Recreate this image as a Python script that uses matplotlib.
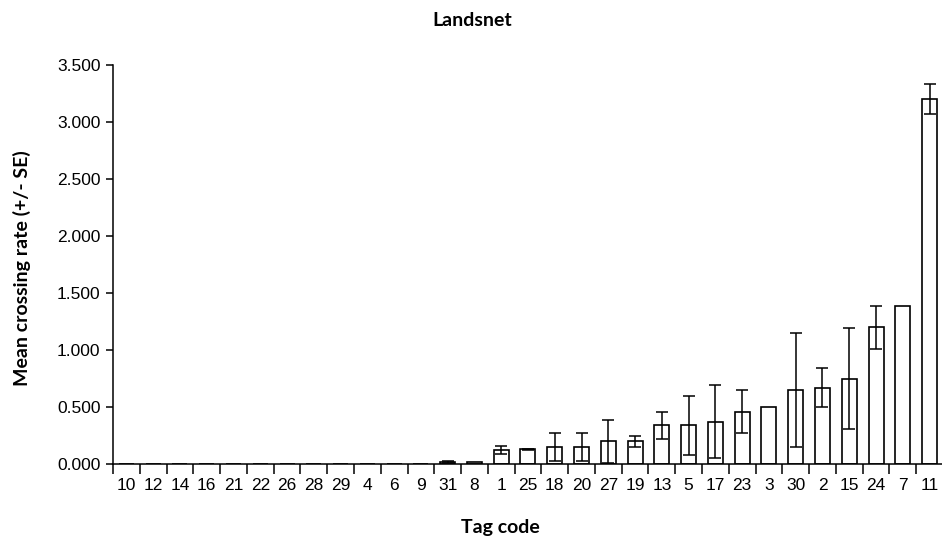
import matplotlib
matplotlib.use("Agg")
import matplotlib.pyplot as plt
import numpy as np

categories = ["10", "12", "14", "16", "21", "22", "26", "28", "29", "4", "6", "9", "31", "8",
              "1", "25", "18", "20", "27", "19", "13", "5", "17", "23", "3", "30", "2", "15",
              "24", "7", "11"]
means = [0, 0, 0, 0, 0, 0, 0, 0, 0, 0, 0, 0, 0.015, 0.02,
         0.12, 0.13, 0.15, 0.15, 0.20, 0.20, 0.34, 0.34, 0.37, 0.46, 0.50, 0.65, 0.67, 0.75,
         1.20, 1.39, 3.20]
se = [0, 0, 0, 0, 0, 0, 0, 0, 0, 0, 0, 0, 0.008, 0,
      0.035, 0.005, 0.12, 0.12, 0.19, 0.05, 0.12, 0.26, 0.32, 0.19, 0, 0.50, 0.17, 0.44,
      0.19, 0, 0.13]
yticks = [0.0, 0.5, 1.0, 1.5, 2.0, 2.5, 3.0, 3.5]

plt.rcParams['font.family'] = ['Liberation Sans', 'DejaVu Sans']

fig = plt.figure(figsize=(9.42, 5.41), dpi=100)
ax = fig.add_axes([0.12, 0.1423, 0.881, 0.7375])

x = np.arange(len(categories))
ax.bar(x, means, width=0.56, color="white", edgecolor="black", linewidth=1.2, zorder=2)
err_idx = [i for i, s in enumerate(se) if s > 0]
ax.errorbar(x[err_idx], np.array(means)[err_idx], yerr=np.array(se)[err_idx], fmt="none",
            ecolor="black", elinewidth=1.1, capsize=4.5, capthick=1.1, zorder=3)

ax.set_xlim(-0.5, len(categories) - 0.5)
ax.set_ylim(0, 3.5)
ax.set_yticks(yticks)
ax.set_yticklabels([f"{v:.3f}" for v in yticks], fontsize=12.5)
ax.set_xticks(x)
ax.set_xticklabels(categories, fontsize=12.5)
ax.tick_params(axis="x", length=0, pad=10)
ax.set_xticks(np.arange(-0.5, len(categories), 1.0), minor=True)
ax.tick_params(axis="x", which="minor", length=7, width=1.1, direction="out")
ax.tick_params(axis="y", length=5, width=1.1, direction="out", pad=4)
for s in ["top", "right"]:
    ax.spines[s].set_visible(False)
for s in ["left", "bottom"]:
    ax.spines[s].set_linewidth(1.1)

bold_font = ['Lato', 'DejaVu Sans']
fig.text(22 / 942, 1 - 268 / 541, "Mean crossing rate (+/- SE)", rotation=90,
         ha="center", va="center", fontsize=14, fontweight="bold", family=bold_font)
fig.text(500 / 942, 1 - 527 / 541, "Tag code", ha="center", va="center",
         fontsize=14, fontweight="bold", family=bold_font)
fig.text(472 / 942, 1 - 20 / 541, "Landsnet", ha="center", va="center",
         fontsize=14, fontweight="bold", family=bold_font)

fig.savefig("out.png", dpi=100)
